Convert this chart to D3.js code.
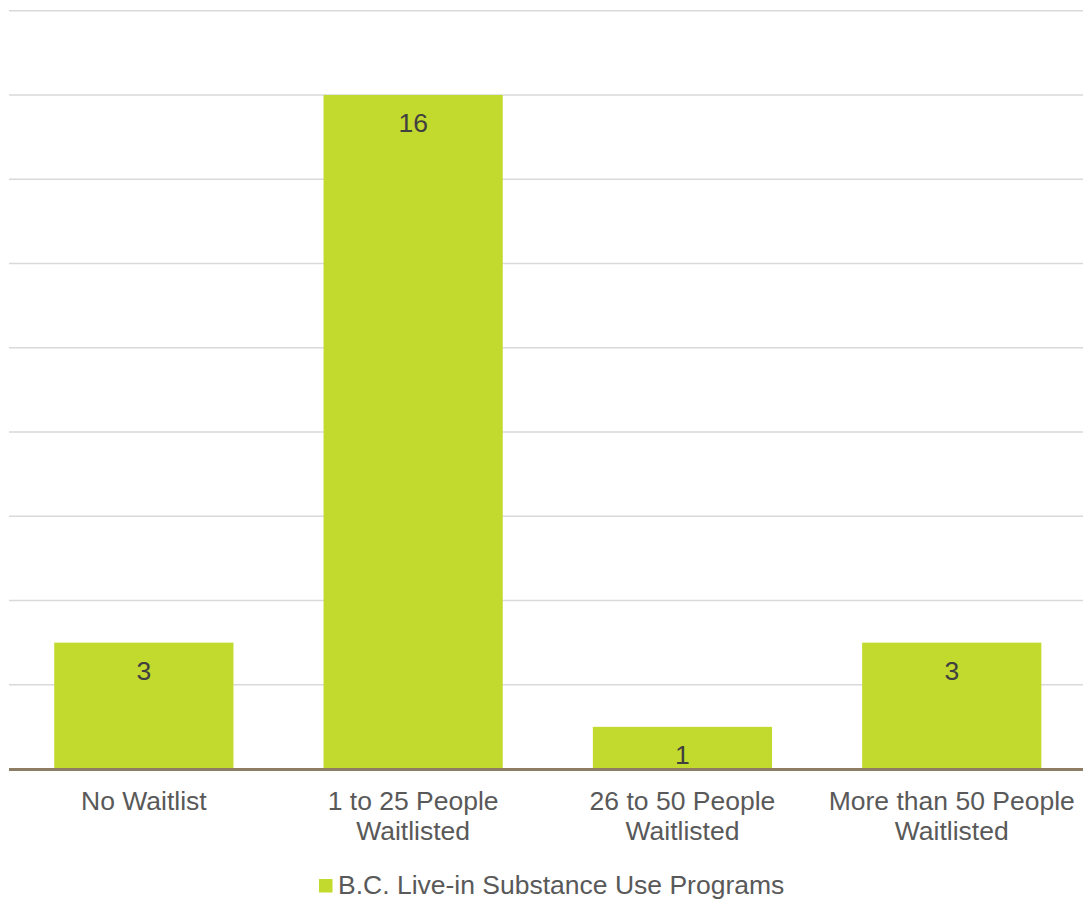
<!DOCTYPE html>
<html>
<head>
<meta charset="utf-8">
<script src="https://cdn.jsdelivr.net/npm/d3@7"></script>
<style>
  html, body { margin: 0; padding: 0; background: #ffffff; }
  svg { display: block; }
  text { font-family: "Liberation Sans", Arial, sans-serif; }
</style>
</head>
<body>
<svg id="chart" width="1083" height="900"></svg>
<script>
const categories = [["No Waitlist"], ["1 to 25 People", "Waitlisted"], ["26 to 50 People", "Waitlisted"], ["More than 50 People", "Waitlisted"]];
const categoryKeys = ["No Waitlist", "1 to 25 People Waitlisted", "26 to 50 People Waitlisted", "More than 50 People Waitlisted"];
const values = [3, 16, 1, 3];
const seriesName = "B.C. Live-in Substance Use Programs";
const yTicks = [0, 2, 4, 6, 8, 10, 12, 14, 16, 18];

const svg = d3.select("#chart");
const barColor = "#c2d92e";
const fontSize = 26.5;

const x = d3.scaleBand()
  .domain(categoryKeys)
  .range([9.2, 1086.4])
  .paddingInner(0.3346)
  .paddingOuter(0.1673);

const y = d3.scaleLinear()
  .domain([0, 18])
  .range([769, 10.75]);

// gridlines
svg.append("g")
  .selectAll("line")
  .data(yTicks.filter(d => d > 0))
  .join("line")
  .attr("x1", 9)
  .attr("x2", 1083)
  .attr("y1", d => y(d))
  .attr("y2", d => y(d))
  .attr("stroke", "#d9d9d9")
  .attr("stroke-width", 1.6);

// bars
svg.append("g")
  .selectAll("rect")
  .data(values)
  .join("rect")
  .attr("x", (d, i) => x(categoryKeys[i]))
  .attr("width", x.bandwidth())
  .attr("y", d => y(d))
  .attr("height", d => y(0) - y(d))
  .attr("fill", barColor);

// baseline
svg.append("line")
  .attr("x1", 9)
  .attr("x2", 1083)
  .attr("y1", y(0) + 0.5)
  .attr("y2", y(0) + 0.5)
  .attr("stroke", "#8c7d64")
  .attr("stroke-width", 3);

// data labels
svg.append("g")
  .selectAll("text")
  .data(values)
  .join("text")
  .attr("x", (d, i) => x(categoryKeys[i]) + x.bandwidth() / 2)
  .attr("y", d => y(d) + 37)
  .attr("text-anchor", "middle")
  .attr("font-size", fontSize)
  .attr("fill", "#404040")
  .text(d => d);

// category labels
const catG = svg.append("g")
  .selectAll("text")
  .data(categories)
  .join("text")
  .attr("x", (d, i) => x(categoryKeys[i]) + x.bandwidth() / 2)
  .attr("y", 810)
  .attr("text-anchor", "middle")
  .attr("font-size", fontSize)
  .attr("fill", "#595959");
catG.selectAll("tspan")
  .data(d => d)
  .join("tspan")
  .attr("x", function() { return d3.select(this.parentNode).attr("x"); })
  .attr("dy", (d, i) => i === 0 ? 0 : 30)
  .text(d => d);

// legend
const legend = svg.append("g");
legend.append("rect")
  .attr("x", 319)
  .attr("y", 879)
  .attr("width", 13.5)
  .attr("height", 13.5)
  .attr("fill", barColor);
legend.append("text")
  .attr("x", 338)
  .attr("y", 894)
  .attr("font-size", fontSize)
  .attr("fill", "#595959")
  .text(seriesName);
</script>
</body>
</html>
